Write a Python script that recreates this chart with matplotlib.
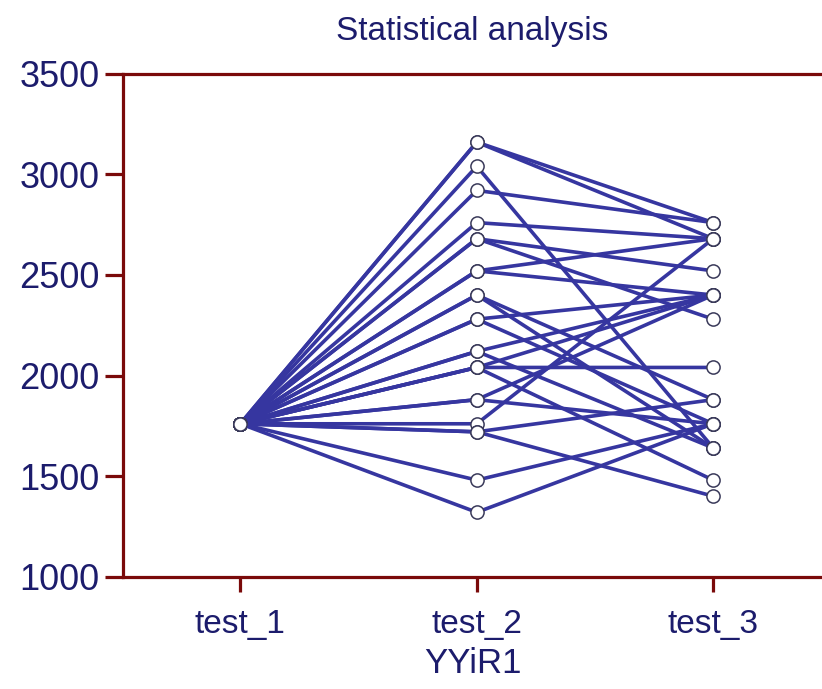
import numpy as np
import matplotlib.pyplot as plt

###############
# data (one entry per subject)
conditions = ['test_1', 'test_2', 'test_3']
test_1 = [1760] * 25
test_2 = [3160, 3160, 3040, 2920, 2760, 2680, 2680, 2520, 2520, 2400, 2400, 2280, 2280,
          2120, 2120, 2040, 2040, 2040, 1880, 1880, 1760, 1720, 1720, 1480, 1320]
test_3 = [2760, 2680, 1640, 2760, 2680, 2520, 2280, 2680, 2400, 1880, 1640, 2400, 1760,
          2400, 1640, 2040, 2400, 1480, 2400, 1760, 2680, 1880, 1400, 1760, 1760]
y_ticks = [1000, 1500, 2000, 2500, 3000, 3500]
###############

plt.rcParams['font.family'] = ['Liberation Sans', 'DejaVu Sans']
navy = '#1c1c6c'
spine_col = '#7a0a0a'
line_col = '#3636a0'

fig = plt.figure(figsize=(8.22, 6.89), dpi=100)
ax = fig.add_axes([0.150, 0.163, 0.850, 0.730])

x = np.arange(len(conditions))
for a, b, c in zip(test_1, test_2, test_3):
    ax.plot(x, [a, b, c], '-', color=line_col, lw=2.6, zorder=2,
            marker='o', ms=9.5, mfc='white', mec='#3a3a5a', mew=1.1)

ax.set_xlim(-0.495, 2.46)
ax.set_ylim(1000, 3500)
ax.set_xticks(x)
ax.set_xticklabels(conditions)
ax.set_yticks(y_ticks)

for s in ['left', 'bottom', 'top']:
    ax.spines[s].set_color(spine_col)
    ax.spines[s].set_linewidth(2.3)
ax.spines['right'].set_visible(False)

ax.tick_params(axis='both', colors=spine_col, width=2.3, labelcolor=navy)
ax.tick_params(axis='y', length=13, pad=4, labelsize=26)
ax.tick_params(axis='x', length=11, pad=12, labelsize=24)

ax.set_title('Statistical analysis', fontsize=24, color=navy, pad=24)
ax.set_xlabel('YYiR1', fontsize=25, color=navy, labelpad=5)

plt.savefig('out.png', dpi=100)
plt.close()
